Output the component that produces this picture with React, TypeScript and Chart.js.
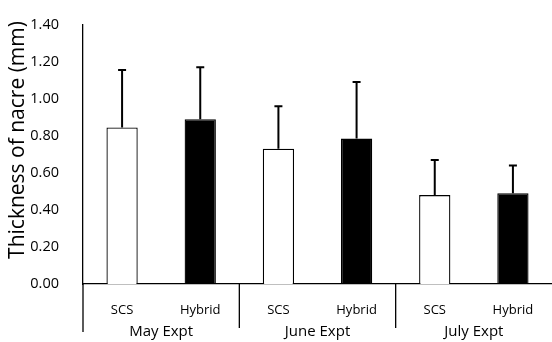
import React, { useEffect, useRef } from "react";
import { Chart, registerables } from "chart.js";

Chart.register(...registerables);

const groups = ["May Expt", "June Expt", "July Expt"];
const types = ["SCS", "Hybrid"];
const categories = ["SCS", "Hybrid", "SCS", "Hybrid", "SCS", "Hybrid"];
const means = [0.845, 0.89, 0.73, 0.785, 0.48, 0.49];
const errTops = [1.155, 1.17, 0.96, 1.09, 0.67, 0.64];
const yTicks = [0, 0.2, 0.4, 0.6, 0.8, 1.0, 1.2, 1.4];
const yTitle = "Thickness of nacre (mm)";

const FONT = "'Open Sans', Lato, sans-serif";

const labelPlugin = {
  id: "groupLabels",
  afterDatasetsDraw(chart: any) {
    const { ctx, chartArea, scales } = chart;
    const x = scales.x;
    const y = scales.y;
    ctx.save();
    // error bars
    ctx.strokeStyle = "#000";
    ctx.lineWidth = 2;
    means.forEach((m, i) => {
      const cx = x.getPixelForValue(i);
      const y0 = y.getPixelForValue(m);
      const y1 = y.getPixelForValue(errTops[i]);
      ctx.beginPath();
      ctx.moveTo(cx, y0);
      ctx.lineTo(cx, y1);
      ctx.moveTo(cx - 4, y1);
      ctx.lineTo(cx + 4, y1);
      ctx.stroke();
    });
    // separators
    ctx.lineWidth = 1.3;
    const bottom = chartArea.bottom;
    const catW = (chartArea.right - chartArea.left) / categories.length;
    for (let g = 0; g < groups.length; g++) {
      const gx = chartArea.left + g * 2 * catW;
      ctx.beginPath();
      ctx.moveTo(gx, bottom);
      ctx.lineTo(gx, bottom + (g === 0 ? 48 : 44));
      ctx.stroke();
    }
    // labels
    ctx.fillStyle = "#000";
    ctx.textAlign = "center";
    ctx.textBaseline = "middle";
    ctx.font = `13px ${FONT}`;
    categories.forEach((c, i) => {
      ctx.fillText(c, x.getPixelForValue(i), bottom + 26);
    });
    ctx.font = `15px ${FONT}`;
    groups.forEach((g, gi) => {
      const cx = chartArea.left + (gi * 2 + 1) * catW;
      ctx.fillText(g, cx, bottom + 48);
    });
    // y title
    ctx.translate(18, 140);
    ctx.rotate(-Math.PI / 2);
    ctx.font = `21px ${FONT}`;
    ctx.fillText(yTitle, 0, 0);
    ctx.restore();
  },
};

export default function App() {
  const ref = useRef<HTMLCanvasElement>(null);
  useEffect(() => {
    document.body.style.margin = "0";
    const chart = new Chart(ref.current!, {
      type: "bar",
      data: {
        labels: categories,
        datasets: [
          {
            data: means,
            backgroundColor: categories.map((c) => (c === types[0] ? "#ffffff" : "#000000")),
            borderColor: "#000",
            borderWidth: 1.3,
            barPercentage: 0.4,
            categoryPercentage: 1,
          },
        ],
      },
      options: {
        animation: false,
        responsive: false,
        maintainAspectRatio: false,
        layout: { padding: { top: 22, right: 0, bottom: 0, left: 0 } },
        plugins: { legend: { display: false }, tooltip: { enabled: false } },
        scales: {
          x: {
            grid: { display: false },
            ticks: { display: false },
            border: { color: "#000", width: 1.3 },
            afterFit(scale: any) {
              scale.height = 58;
            },
          },
          y: {
            min: 0,
            max: 1.4,
            afterBuildTicks(scale: any) {
              scale.ticks = yTicks.map((v) => ({ value: v }));
            },
            ticks: {
              color: "#000",
              font: { family: FONT, size: 14.5 },
              padding: 16,
              callback: (v: any) => Number(v).toFixed(2),
            },
            grid: { display: false },
            border: { color: "#000", width: 1.3 },
            title: { display: false },
            afterFit(scale: any) {
              scale.width = 83;
            },
          },
        },
      },
      plugins: [labelPlugin],
    });
    return () => chart.destroy();
  }, []);
  return (
    <div style={{ width: 552, height: 342 }}>
      <canvas ref={ref} width={552} height={342} />
    </div>
  );
}
